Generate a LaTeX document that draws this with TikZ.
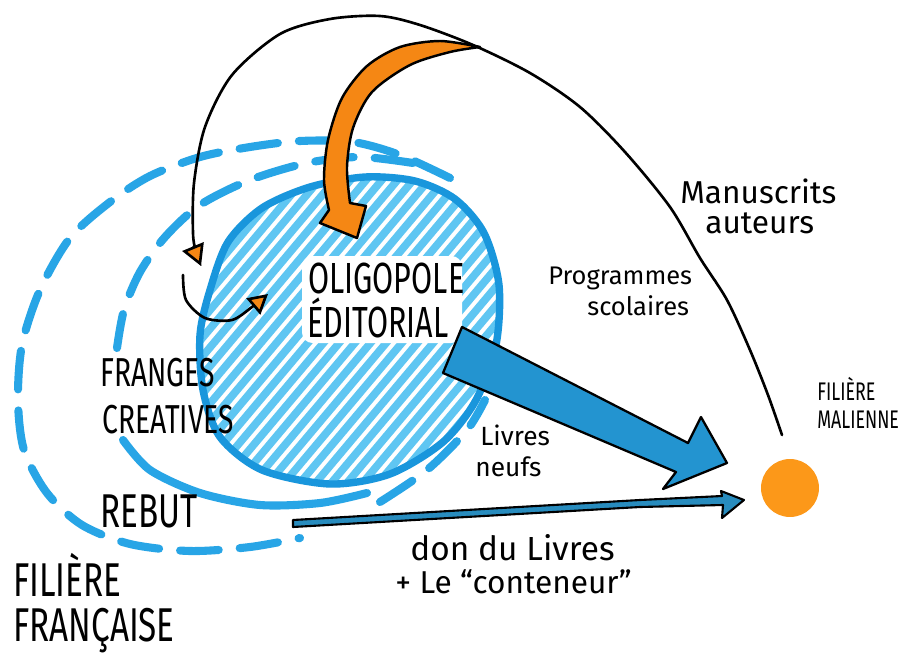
\documentclass[tikz,border=0pt]{standalone}
\usepackage{fontspec}
\setmainfont{Fira Sans}
\newfontfamily\handcaps[FakeStretch=0.7]{Fira Sans}
\newfontfamily\handlc{Fira Sans}
\usetikzlibrary{arrows.meta,calc}
\definecolor{ringblue}{RGB}{40,165,230}
\definecolor{edgeblue}{RGB}{25,150,220}
\definecolor{hatchblue}{RGB}{95,198,242}
\definecolor{arrowblue}{RGB}{35,148,208}
\definecolor{thinblue}{RGB}{40,140,190}
\definecolor{orng}{RGB}{245,135,20}
\definecolor{dotorange}{RGB}{252,152,25}
\tikzset{
  ring/.style={line width=4.6pt, draw=ringblue, line cap=round, dash pattern=on 22pt off 12pt},
  ringsolid/.style={line width=4.6pt, draw=ringblue, line cap=round},
  hatchline/.style={line width=4.4pt, draw=hatchblue},
  inneredge/.style={line width=4.2pt, draw=edgeblue},
  blackline/.style={line width=1.5pt, draw=black, line cap=round},
  orangetip/.style={-{Triangle[length=12pt,width=13pt,fill=orng,line join=miter]}},
  orangearrow/.style={fill=orng, draw=black, line width=1.4pt, line join=round},
  blockarrow/.style={fill=arrowblue, draw=black, line width=1.3pt, line join=round},
  thinarrow/.style={fill=thinblue, draw=black, line width=1.2pt, line join=round},
  capslabel/.style={anchor=base west, inner sep=0pt, text=black},
  lclabel/.style={anchor=base west, inner sep=0pt, text=black}
}
\begin{document}
\begin{tikzpicture}[x=0.02cm,y=-0.02cm]
\useasboundingbox (0,0) rectangle (917,653);
\fill[white] (0,0) rectangle (917,653);

% outer dashed ring
\draw[ring] plot[smooth] coordinates {(450,178) (400,155) (353,142) (300,141) (250,147) (200,157) (150,176) (110,202) (70,238) (40,290) (22,345) (18,400) (24,450) (47,493) (82,525) (130,544) (190,551) (250,547) (300,538)};
% middle ring
\draw[ring] plot[smooth] coordinates {(413,163) (360,157) (307,163) (250,180) (200,205) (165,237) (140,272) (124,310) (117,348)};
\draw[ringsolid] plot[smooth] coordinates {(123,440) (150,470) (200,493) (260,505) (320,503) (367,493)};
\draw[ring] plot[smooth] coordinates {(380,502) (427,470) (467,430) (485,400)};

% inner hatched circle
\fill[white] plot[smooth cycle] coordinates {(365,177) (415,181) (455,199) (484,233) (499,285) (496,345) (476,400) (443,442) (390,474) (330,484) (262,470) (220,437) (203,390) (200,335) (210,290) (228,242) (262,208) (310,187)};
\begin{scope}
\clip plot[smooth cycle] coordinates {(365,177) (415,181) (455,199) (484,233) (499,285) (496,345) (476,400) (443,442) (390,474) (330,484) (262,470) (220,437) (203,390) (200,335) (210,290) (228,242) (262,208) (310,187)};
\foreach \i in {-18,...,18} {
  \draw[hatchline] ($(350,330)+(\i*9.19,\i*7.72)+(-193,230)$) -- ++(386,-460);
}
\end{scope}
\draw[inneredge] plot[smooth cycle] coordinates {(365,177) (415,181) (455,199) (484,233) (499,285) (496,345) (476,400) (443,442) (390,474) (330,484) (262,470) (220,437) (203,390) (200,335) (210,290) (228,242) (262,208) (310,187)};
\fill[white, rounded corners=6pt] (302,256) rectangle (462,343);

% orange dot (Mali)
\node[circle, fill=dotorange, minimum size=33pt, inner sep=0pt] (mali) at (790,488) {};

% named end points of connectors
\coordinate (mstart) at (782,435);
\coordinate (mend) at (201,266);
\coordinate (loopS) at (183,275);
\coordinate (loopE) at (268,294);

% big black curve with orange head
\draw[blackline, orangetip] plot[smooth] coordinates {(mstart) (768,395) (750,350) (727,300) (700,258) (670,207) (625,152) (580,107) (530,73) (473,45) (420,25) (380,16) (330,19) (280,34) (232,75) (205,127) (194,183) (193,233) (196,252) (mend)};

% small loop arrow
\draw[blackline, -{Triangle[length=11pt,width=12pt,fill=orng,line join=miter]}] plot[smooth] coordinates {(loopS) (186,300) (205,318) (232,320) (252,307) (loopE)};

% thick orange curved arrow
\draw[orangearrow] plot[smooth] coordinates {(480,47) (440,41) (400,47) (367,66) (342,98) (328,140) (324,180) (329,210)} -- (320,223) -- (357,238) -- (366,206) -- (350,203) -- plot[smooth] coordinates {(350,203) (347,167) (353,128) (372,92) (410,65) (450,52) (480,47)} -- cycle;

% big blue block arrow
\draw[blockarrow] (462,327) -- (688,443) -- (701,417) -- (727,463) -- (663,489) -- (676,472) -- (443,373) -- cycle;

% thin blue arrow
\draw[thinarrow] (293,520) -- (640,500) -- (722,496) -- (721,491) -- (744,500) -- (722,518) -- (723,505) -- (640,507) -- (293,527) -- cycle;

% labels
\node[capslabel, font={\handcaps\fontsize{24.8pt}{26pt}\selectfont}] (olig) at (308,293) {OLIGOPOLE};
\node[capslabel, font={\handcaps\fontsize{24.8pt}{26pt}\selectfont}] (edit) at (307,337) {ÉDITORIAL};
\node[capslabel, font={\handcaps\fontsize{23pt}{25pt}\selectfont}] (frang) at (100,386) {FRANGES};
\node[capslabel, font={\handcaps\fontsize{23pt}{25pt}\selectfont}] (creat) at (102,433) {CREATIVES};
\node[capslabel, font={\handcaps\fontsize{27pt}{28pt}\selectfont}] (rebut) at (100,527) {REBUT};
\node[capslabel, font={\handcaps\fontsize{27pt}{28pt}\selectfont}] (filfr) at (13,596) {FILIÈRE};
\node[capslabel, font={\handcaps\fontsize{27pt}{28pt}\selectfont}] (franc) at (13,641) {FRANÇAISE};
\node[capslabel, font={\handcaps\fontsize{14.5pt}{16pt}\selectfont}] (filml) at (817,400) {FILIÈRE};
\node[capslabel, font={\handcaps\fontsize{14.5pt}{16pt}\selectfont}] (malien) at (817,428) {MALIENNE};
\node[lclabel, font={\handlc\fontsize{18pt}{20pt}\selectfont}] (manus) at (680,203) {Manuscrits};
\node[lclabel, font={\handlc\fontsize{18pt}{20pt}\selectfont}] (auteurs) at (705,233) {auteurs};
\node[lclabel, font={\handlc\fontsize{14.5pt}{16pt}\selectfont}] (prog) at (548,284) {Programmes};
\node[lclabel, font={\handlc\fontsize{14.5pt}{16pt}\selectfont}] (scol) at (587,315) {scolaires};
\node[lclabel, font={\handlc\fontsize{15pt}{17pt}\selectfont}] (livres) at (480,445) {Livres};
\node[lclabel, font={\handlc\fontsize{15pt}{17pt}\selectfont}] (neufs) at (475,476) {neufs};
\node[lclabel, font={\handlc\fontsize{19pt}{20pt}\selectfont}] (don) at (410,560) {don du Livres};
\node[lclabel, font={\handlc\fontsize{18pt}{20pt}\selectfont}] (cont) at (395,593) {+ Le “conteneur”};
\end{tikzpicture}
\end{document}
